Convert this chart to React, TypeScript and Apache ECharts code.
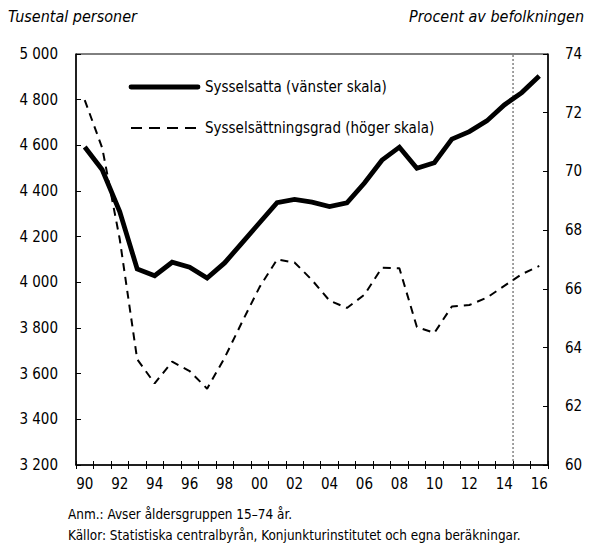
import React, { useEffect, useRef } from "react";
import * as echarts from "echarts";

const years = ["90", "91", "92", "93", "94", "95", "96", "97", "98", "99", "00", "01", "02", "03", "04", "05", "06", "07", "08", "09", "10", "11", "12", "13", "14", "15", "16"];
const sysselsatta = [4593, 4493, 4310, 4059, 4029, 4088, 4066, 4019, 4085, 4173, 4261, 4349, 4363, 4351, 4332, 4348, 4435, 4535, 4592, 4500, 4524, 4627, 4660, 4707, 4777, 4831, 4904];
const sysselsattningsgrad = [72.43, 70.8, 67.7, 63.6, 62.78, 63.52, 63.2, 62.6, 63.65, 64.87, 66.06, 67.0, 66.9, 66.3, 65.6, 65.35, 65.8, 66.72, 66.7, 64.7, 64.5, 65.4, 65.45, 65.7, 66.1, 66.5, 66.78];
const forecastBoundary = [[25, 3200], [25, 5000]];
const seriesNames = ["Sysselsatta (vänster skala)", "Sysselsättningsgrad (höger skala)"];
const notes = ["Anm.: Avser åldersgruppen 15–74 år.", "Källor: Statistiska centralbyrån, Konjunkturinstitutet och egna beräkningar."];
const leftTitle = "Tusental personer";
const rightTitle = "Procent av befolkningen";

export default function App() {
  const ref = useRef<HTMLDivElement>(null);
  useEffect(() => {
    const chart = echarts.init(ref.current!, null, { renderer: "svg" });
    const font = '"DejaVu Sans Condensed", "Liberation Sans Narrow", sans-serif';
    const fmt = (v: number) => String(v).replace(/\B(?=(\d{3})+(?!\d))/g, " ");
    chart.setOption({
      animation: false,
      backgroundColor: "#fff",
      textStyle: { fontFamily: font, color: "#000" },
      grid: { left: 76, right: 42, top: 54, bottom: 79, show: true, borderColor: "#000", borderWidth: 1, backgroundColor: "transparent" },
      title: [
        { text: leftTitle, left: 8, top: 8, padding: 0, textStyle: { fontStyle: "italic", fontWeight: "normal", fontSize: 16, fontFamily: font, color: "#000" } },
        { text: rightTitle, right: 6, top: 8, padding: 0, textStyle: { fontStyle: "italic", fontWeight: "normal", fontSize: 16, fontFamily: font, color: "#000" } },
      ],
      xAxis: [
        {
          type: "category",
          data: years,
          boundaryGap: true,
          position: "bottom",
          axisLine: { show: true, lineStyle: { color: "#000", width: 1.5 } },
          axisTick: { show: true, interval: 0, length: 4, inside: false, lineStyle: { color: "#000" } },
          axisLabel: { interval: 1, color: "#000", fontSize: 15, margin: 11, fontFamily: font },
          splitLine: { show: false },
        },
        {
          type: "value",
          min: 0,
          max: 27,
          interval: 1,
          position: "bottom",
          axisLine: { show: false },
          axisTick: { show: true, inside: true, length: 4, lineStyle: { color: "#000" } },
          axisLabel: { show: false },
          splitLine: { show: false },
        },
      ],
      yAxis: [
        {
          type: "value",
          min: 3200,
          max: 5000,
          interval: 200,
          position: "left",
          axisLine: { show: true, lineStyle: { color: "#000", width: 1.5 } },
          axisTick: { show: true, inside: true, length: 5, lineStyle: { color: "#000" } },
          axisLabel: { color: "#000", fontSize: 15, margin: 18, formatter: fmt, fontFamily: font },
          splitLine: { show: false },
        },
        {
          type: "value",
          min: 60,
          max: 74,
          interval: 2,
          position: "right",
          axisLine: { show: true, lineStyle: { color: "#000", width: 1.5 } },
          axisTick: { show: true, inside: true, length: 5, lineStyle: { color: "#000" } },
          axisLabel: { color: "#000", fontSize: 15, margin: 17, fontFamily: font },
          splitLine: { show: false },
        },
      ],
      series: [
        {
          type: "line",
          xAxisIndex: 1,
          yAxisIndex: 0,
          data: forecastBoundary,
          symbol: "none",
          silent: true,
          lineStyle: { color: "#444", width: 1, type: [2, 2] },
          z: 1,
        },
        {
          name: seriesNames[0],
          type: "line",
          xAxisIndex: 0,
          yAxisIndex: 0,
          data: sysselsatta,
          symbol: "none",
          lineStyle: { color: "#000", width: 4.8, join: "miter" },
          itemStyle: { color: "#000" },
          z: 3,
        },
        {
          name: seriesNames[1],
          type: "line",
          xAxisIndex: 0,
          yAxisIndex: 1,
          data: sysselsattningsgrad,
          symbol: "none",
          lineStyle: { color: "#000", width: 2, type: [8, 6] },
          itemStyle: { color: "#000" },
          z: 2,
        },
      ],
      graphic: [
        { type: "line", shape: { x1: 131, y1: 87, x2: 198, y2: 87 }, style: { stroke: "#000", lineWidth: 4.8, lineCap: "round" }, z: 10 },
        { type: "text", x: 205, y: 87, style: { text: seriesNames[0], fontSize: 15, fontFamily: font, fill: "#000", textVerticalAlign: "middle" }, z: 10 },
        { type: "line", shape: { x1: 131, y1: 128, x2: 198, y2: 128 }, style: { stroke: "#000", lineWidth: 2, lineDash: [11, 7] }, z: 10 },
        { type: "text", x: 205, y: 128, style: { text: seriesNames[1], fontSize: 15, fontFamily: font, fill: "#000", textVerticalAlign: "middle" }, z: 10 },
        { type: "text", x: 68, y: 514, scaleX: 0.96, style: { text: notes[0], fontSize: 14, fontFamily: font, fill: "#000", textVerticalAlign: "middle" } },
        { type: "text", x: 68, y: 535, scaleX: 0.96, style: { text: notes[1], fontSize: 14, fontFamily: font, fill: "#000", textVerticalAlign: "middle" } },
      ],
    });
    return () => chart.dispose();
  }, []);
  return <div ref={ref} style={{ position: "fixed", left: 0, top: 0, width: 590, height: 544 }} />;
}
